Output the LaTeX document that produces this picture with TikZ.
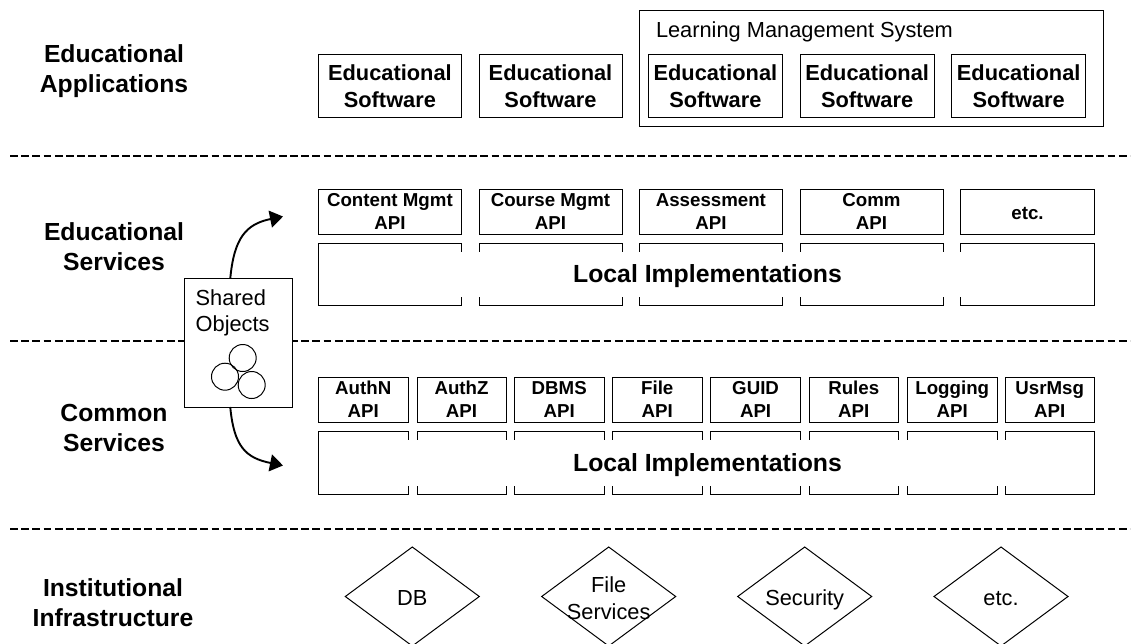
\documentclass[tikz,border=0pt]{standalone}
\usepackage{fontspec}
\setmainfont{Liberation Sans}
\usetikzlibrary{shapes.geometric,arrows.meta,calc}
\newcommand{\pbox}[7][]{\node[#2,minimum width={#5-#3},minimum height={#6-#4},#1] (#7) at ({(#3+#5)/2},{(#4+#6)/2}) {};}
\newcommand{\tbox}[8][]{\node[#2,minimum width={#5-#3},minimum height={#6-#4},#1] (#7) at ({(#3+#5)/2},{(#4+#6)/2}) {#8};}
\tikzset{
  boxbase/.style={draw=black,line width=1pt,rectangle,inner sep=0pt,outer sep=0pt,align=center},
  softbox/.style={boxbase,font=\fontsize{21.8}{27}\selectfont\bfseries},
  apibox/.style={boxbase,font=\fontsize{18.7}{22.6}\selectfont\bfseries,execute at begin node={\rule{0pt}{15.6pt}}},
  implbox/.style={boxbase},
  implcover/.style={rectangle,fill=white,inner sep=0pt,outer sep=0pt,font=\fontsize{24.8}{30}\selectfont\bfseries,execute at begin node={\rule{0pt}{22pt}}},
  layerlabel/.style={inner sep=0pt,outer sep=0pt,align=center,font=\fontsize{24.7}{30}\selectfont\bfseries},
  plain/.style={inner sep=0pt,outer sep=0pt,align=center,font=\fontsize{21.8}{26.4}\selectfont},
  sep/.style={line width=2.8pt,dash pattern=on 7.8pt off 3.4pt},
  infra/.style={diamond,draw=black,line width=1pt,inner sep=0pt,outer sep=0pt,minimum width=134pt,minimum height=99pt},
  orb/.style={circle,draw=black,line width=1pt,inner sep=0pt,minimum size=27pt},
  flow/.style={line width=1.9pt,-{Triangle[length=13pt,width=17pt]}},
}
\begin{document}
\begin{tikzpicture}[x=1pt,y=-1pt]
\useasboundingbox (0,0) rectangle (1133,643);
\clip (0,0) rectangle (1133,643);
% separators
\coordinate (s1a) at (10,156); \coordinate (s1b) at (1130,156);
\coordinate (s2a) at (10,341); \coordinate (s2b) at (1130,341);
\coordinate (s3a) at (10,529); \coordinate (s3b) at (1130,529);
\draw[sep] (s1a) -- (s1b);
\draw[sep] (s2a) -- (s2b);
\draw[sep] (s3a) -- (s3b);
% layer labels
\node[layerlabel] (l1) at (114,71.5) {Educational\\Applications};
\node[layerlabel] (l2) at (114,247) {Educational\\Services};
\node[layerlabel] (l3) at (114,427.5) {Common\\Services};
\node[layerlabel] (l4) at (113,603) {Institutional\\Infrastructure};
% applications
\pbox{boxbase}{639.3}{10}{1103.3}{126.7}{lms}
\node[plain,anchor=base west] (lmst) at (656,37) {Learning Management System};
\tbox{softbox}{318.5}{54.7}{461.3}{117.3}{es1}{Educational\\Software}
\tbox{softbox}{479}{54.7}{622}{117.3}{es2}{Educational\\Software}
\tbox{softbox}{648.5}{54.7}{782.3}{117.3}{es3}{Educational\\Software}
\tbox{softbox}{800}{54.7}{934.3}{117.3}{es4}{Educational\\Software}
\tbox{softbox}{951.7}{54.7}{1085.7}{117.3}{es5}{Educational\\Software}
% educational services
\tbox{apibox}{318.5}{189}{461.3}{234}{a1}{Content Mgmt\\API}
\tbox{apibox}{479}{189}{622}{234}{a2}{Course Mgmt\\API}
\tbox{apibox}{639.5}{189}{782.3}{234}{a3}{Assessment\\API}
\tbox{apibox}{800}{189}{943}{234}{a4}{Comm\\API}
\tbox{apibox}{960.5}{189}{1094.5}{234}{a5}{etc.}
\pbox{implbox}{318.5}{243}{461.3}{305}{i1}
\pbox{implbox}{479}{243}{622}{305}{i2}
\pbox{implbox}{639.5}{243}{782.3}{305}{i3}
\pbox{implbox}{800}{243}{943}{305}{i4}
\pbox{implbox}{960.5}{243}{1094.5}{305}{i5}
\tbox{implcover}{330}{252}{1085}{297}{c1}{Local Implementations}
% common services
\tbox{apibox}{318.5}{377}{408}{422}{b1}{AuthN\\API}
\tbox{apibox}{417}{377}{506}{422}{b2}{AuthZ\\API}
\tbox{apibox}{514.5}{377}{604}{422}{b3}{DBMS\\API}
\tbox{apibox}{612.5}{377}{702}{422}{b4}{File\\API}
\tbox{apibox}{710.5}{377}{800.7}{422}{b5}{GUID\\API}
\tbox{apibox}{809}{377}{898.5}{422}{b6}{Rules\\API}
\tbox{apibox}{907.5}{377}{997}{422}{b7}{Logging\\API}
\tbox{apibox}{1005}{377}{1094.5}{422}{b8}{UsrMsg\\API}
\pbox{implbox}{318.5}{431}{408}{494}{j1}
\pbox{implbox}{417}{431}{506}{494}{j2}
\pbox{implbox}{514.5}{431}{604}{494}{j3}
\pbox{implbox}{612.5}{431}{702}{494}{j4}
\pbox{implbox}{710.5}{431}{800.7}{494}{j5}
\pbox{implbox}{809}{431}{898.5}{494}{j6}
\pbox{implbox}{907.5}{431}{997}{494}{j7}
\pbox{implbox}{1005}{431}{1094.5}{494}{j8}
\tbox{implcover}{330}{440}{1085}{486}{c2}{Local Implementations}
% shared objects
\pbox[fill=white]{boxbase}{184.5}{278.7}{292}{407}{shared}
\node[plain,align=left,anchor=north west] (sharedt) at (195.7,289.5) {Shared\\Objects};
\node[orb] (o1) at (242.7,358) {};
\node[orb] (o2) at (225,376.7) {};
\node[orb] (o3) at (251.7,385) {};
\coordinate (upend) at (283,216.5);
\coordinate (downend) at (283,465.5);
\coordinate (upstart) at ($(shared.north)+(-8,0)$);
\coordinate (downstart) at ($(shared.south)+(-8,0)$);
\draw[flow] (upstart) .. controls (234,238) and (246,224) .. (upend);
\draw[flow] (downstart) .. controls (234,447) and (246,458) .. (downend);
% infrastructure
\node[infra] (d1) at (412.3,596.5) {};
\node[infra] (d2) at (608.7,596.5) {};
\node[infra] (d3) at (804.7,596.5) {};
\node[infra] (d4) at (1001,596.5) {};
\node[plain,anchor=base] (t1) at (d1.center |- 0,605) {DB};
\node[plain] (t2) at (608.7,598) {File\\Services};
\node[plain,anchor=base] (t3) at (d3.center |- 0,605) {Security};
\node[plain,anchor=base] (t4) at (d4.center |- 0,605) {etc.};
\end{tikzpicture}
\end{document}
